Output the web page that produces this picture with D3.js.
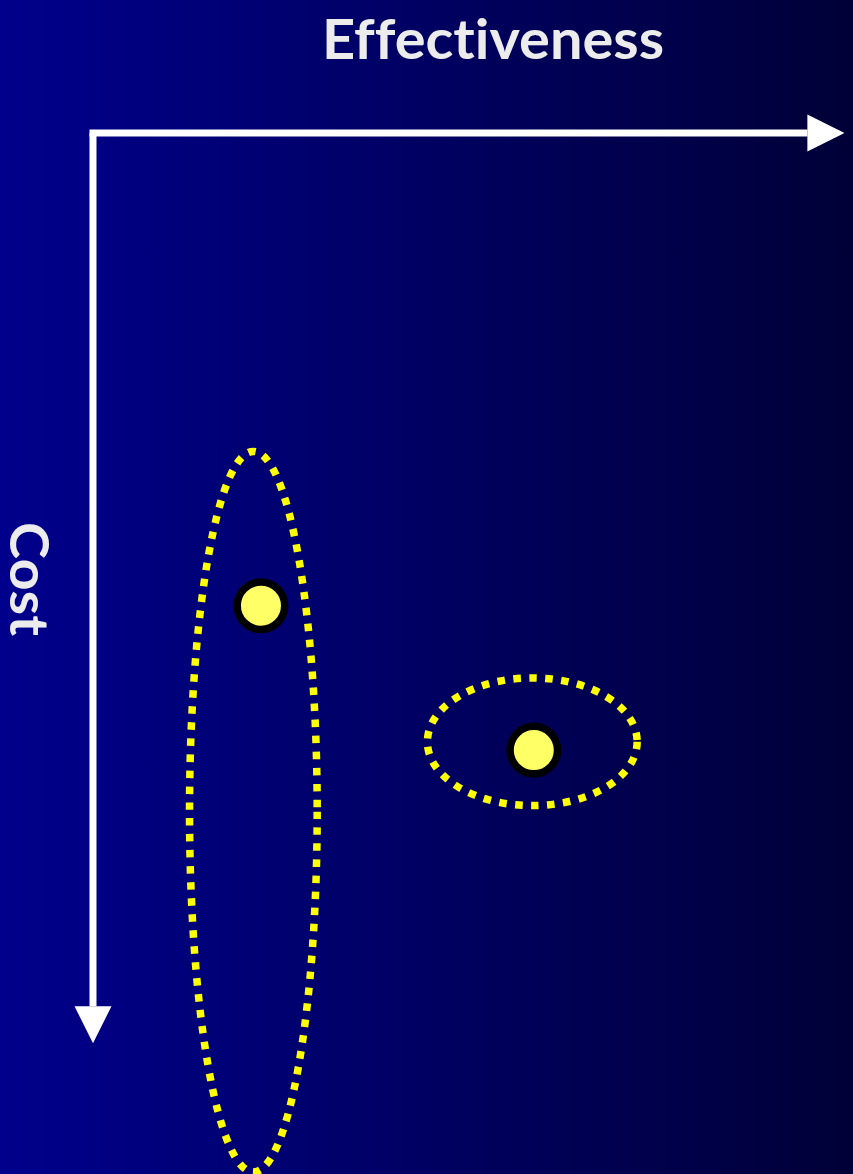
<!DOCTYPE html>
<html>
<head>
<meta charset="utf-8">
<script src="https://cdn.jsdelivr.net/npm/d3@7"></script>
<style>
  html, body { margin: 0; padding: 0; background: #000060; }
  svg { display: block; }
  text { font-variant-ligatures: none; font-feature-settings: "liga" 0, "clig" 0; }
</style>
</head>
<body>
<div id="chart"></div>
<script>
// Cost-effectiveness plane: two strategies with their uncertainty regions
const strategies = ["Strategy A", "Strategy B"];
const effectiveness = [2.21, 5.80];      // point estimate, x
const cost = [6.22, 8.12];               // point estimate, y (cost grows downward)
const regionCenterX = [2.11, 5.78];
const regionCenterY = [8.93, 8.01];
const regionSpreadX = [0.84, 1.38];
const regionSpreadY = [4.74, 0.84];
const axisTitles = ["Effectiveness", "Cost"];

const W = 853, H = 1174;
const svg = d3.select("#chart").append("svg")
  .attr("width", W).attr("height", H);

const defs = svg.append("defs");
const grad = defs.append("linearGradient")
  .attr("id", "bg").attr("x1", 0).attr("x2", 1).attr("y1", 0).attr("y2", 0);
grad.append("stop").attr("offset", "0%").attr("stop-color", "#00008c");
grad.append("stop").attr("offset", "100%").attr("stop-color", "#000038");

svg.append("rect").attr("width", W).attr("height", H).attr("fill", "url(#bg)");

const x = d3.scaleLinear().domain([0, 10]).range([93, 853]);
const y = d3.scaleLinear().domain([0, 12]).range([133, 1045]);

// arrow heads
defs.append("marker")
  .attr("id", "head").attr("viewBox", "0 0 10 10")
  .attr("refX", 0).attr("refY", 5)
  .attr("markerUnits", "userSpaceOnUse")
  .attr("markerWidth", 37).attr("markerHeight", 38)
  .attr("orient", "auto")
  .append("path").attr("d", "M0,0 L10,5 L0,10 Z").attr("fill", "#ffffff");

const axisG = svg.append("g");
axisG.append("line")
  .attr("x1", x(0) - 3.5).attr("x2", x(9.4))
  .attr("y1", y(0)).attr("y2", y(0))
  .attr("stroke", "#ffffff").attr("stroke-width", 7)
  .attr("marker-end", "url(#head)");
axisG.append("line")
  .attr("x1", x(0)).attr("x2", x(0))
  .attr("y1", y(0)).attr("y2", y(11.49))
  .attr("stroke", "#ffffff").attr("stroke-width", 7)
  .attr("marker-end", "url(#head)");

// axis titles
svg.append("text")
  .attr("x", 493).attr("y", 59)
  .attr("text-anchor", "middle")
  .attr("font-family", "Lato, 'Open Sans', sans-serif")
  .attr("font-weight", "bold")
  .attr("font-size", 55)
  .attr("textLength", 342).attr("lengthAdjust", "spacingAndGlyphs")
  .attr("fill", "#ececec")
  .text(axisTitles[0]);

svg.append("text")
  .attr("transform", "translate(10,579) rotate(90)")
  .attr("text-anchor", "middle")
  .attr("font-family", "Lato, 'Open Sans', sans-serif")
  .attr("font-weight", "bold")
  .attr("font-size", 53)
  .attr("textLength", 114).attr("lengthAdjust", "spacingAndGlyphs")
  .attr("fill", "#ececec")
  .text(axisTitles[1]);

// uncertainty regions
const k = x(1) - x(0);
svg.append("g").selectAll("ellipse")
  .data(strategies)
  .join("ellipse")
  .attr("cx", (d, i) => x(regionCenterX[i]))
  .attr("cy", (d, i) => y(regionCenterY[i]))
  .attr("rx", (d, i) => regionSpreadX[i] * k)
  .attr("ry", (d, i) => y(regionSpreadY[i]) - y(0))
  .attr("fill", "none")
  .attr("stroke", "#ffff00")
  .attr("stroke-width", 7.5)
  .attr("stroke-dasharray", "7.5,8.5");

// point estimates
svg.append("g").selectAll("circle")
  .data(strategies)
  .join("circle")
  .attr("cx", (d, i) => x(effectiveness[i]))
  .attr("cy", (d, i) => y(cost[i]))
  .attr("r", 23.75)
  .attr("fill", "#ffff66")
  .attr("stroke", "#000000")
  .attr("stroke-width", 7.5);
</script>
</body>
</html>
